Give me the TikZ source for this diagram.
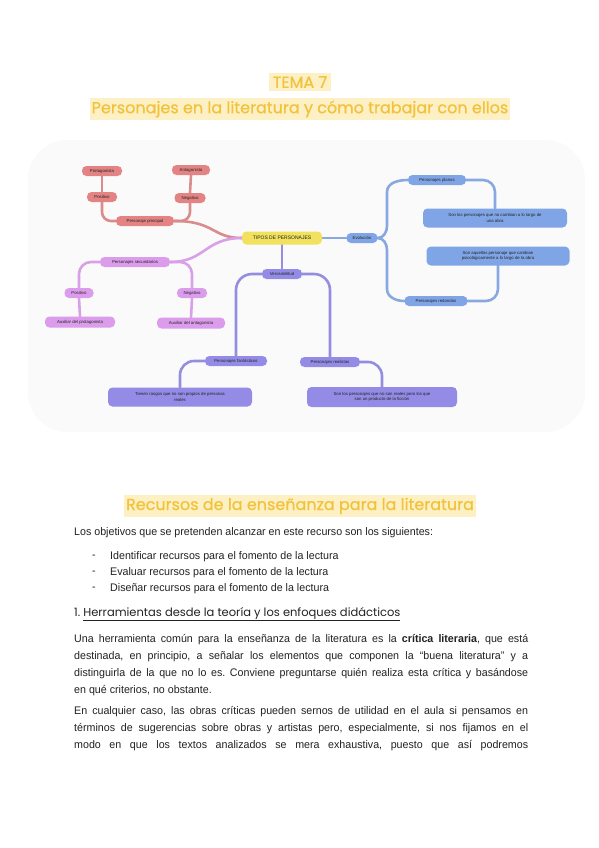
\documentclass[tikz,border=0pt]{standalone}
\usepackage{fontspec}
\setmainfont{Liberation Sans}
\newfontfamily\titlefont{Poppins}
\newfontfamily\titlefontb[FakeBold=0.7]{Poppins}
\newfontfamily\bodyfont[FakeStretch=0.97]{Liberation Sans}
\definecolor{gold}{HTML}{F2C23A}
\definecolor{hl}{HTML}{FDF0C4}
\definecolor{rfill}{HTML}{E48383}
\definecolor{rline}{HTML}{DA8C8C}
\definecolor{pfill}{HTML}{DC9CEC}
\definecolor{pline}{HTML}{D9A0E8}
\definecolor{bfill}{HTML}{80A5E6}
\definecolor{bline}{HTML}{88A8DF}
\definecolor{lfill}{HTML}{938BE6}
\definecolor{lline}{HTML}{948DE0}
\definecolor{yfill}{HTML}{F1E15E}
\definecolor{txt}{HTML}{222222}
\definecolor{blob}{HTML}{FAFAFA}
\pgfdeclarelayer{back}
\pgfdeclarelayer{bg}
\pgfsetlayers{back,bg,main}
\frenchspacing
\begin{document}
\begin{tikzpicture}[x=1pt,y=-1pt,
  mm/.style={rounded corners=4.5pt, inner sep=0pt, minimum height=10pt, align=center, font=\fontsize{4.3}{5.3}\selectfont, text=txt},
  rn/.style={mm, fill=rfill},
  pn/.style={mm, fill=pfill},
  bn/.style={mm, fill=bfill},
  ln/.style={mm, fill=lfill},
  con/.style={line width=2.6pt, line cap=round, rounded corners=9pt},
  ttl/.style={fill=hl, inner xsep=2pt, inner ysep=3pt, text=gold, font=\titlefontb\fontsize{16}{19}\selectfont},
  body/.style={anchor=west, inner sep=0pt, font=\bodyfont\fontsize{11}{13}\selectfont, text=txt}]
\begin{pgfonlayer}{back}
\fill[white] (0,0) rectangle (599,848);
\fill[blob, rounded corners=40pt] (28,140) rectangle (585,432);
\end{pgfonlayer}
\useasboundingbox (0,0) rectangle (599,848);

% titles
\node[ttl, inner xsep=4pt] (t1) at (300,82) {TEMA 7};
\node[ttl] (t2) at (300,109) {Personajes en la literatura y cómo trabajar con ellos};

% central
\node[mm, fill=yfill, minimum width=80pt, minimum height=13pt, font=\fontsize{5}{6}\selectfont] (tipos) at (282,238) {TIPOS DE PERSONAJES};

% red branch
\node[rn, minimum width=40pt] (prot) at (102,171) {Protagonista};
\node[rn, minimum width=30pt] (rpos) at (102,197) {Positivo};
\node[rn, minimum width=38pt] (antag) at (191,170) {Antagonista};
\node[rn, minimum width=31pt] (rneg) at (190,198) {Negativo};
\node[rn, minimum width=58pt] (pp) at (145,221) {Personaje principal};

% pink branch
\node[pn, minimum width=70pt] (sec) at (135,262) {Personajes secundarios};
\node[pn, minimum width=29pt] (ppos) at (79,293) {Positivo};
\node[pn, minimum width=30pt] (pneg) at (192,293) {Negativo};
\node[pn, minimum width=70pt, minimum height=11pt] (aux1) at (80,322) {Auxiliar del protagonista};
\node[pn, minimum width=68pt, minimum height=11pt] (aux2) at (191,323) {Auxiliar del antagonista};

% blue branch
\node[bn, minimum width=31pt] (evol) at (362,238) {Evolución};
\node[bn, minimum width=58pt] (planos) at (437,180) {Personajes planos};
\node[bn, minimum width=144pt, minimum height=19pt] (sonlos) at (495,218) {Son los personajes que no cambian a lo largo de\\una obra};
\node[bn, minimum width=143pt, minimum height=19pt] (sonaq) at (498,256) {Son aquellos personaje que cambian\\psicológicamente a lo largo de la obra};
\node[bn, minimum width=63pt] (redondos) at (436,301) {Personajes redondos};

% lavender branch
\node[ln, minimum width=40pt] (veros) at (282,274) {Verosimilitud};
\node[ln, minimum width=62pt] (fant) at (236,361) {Personajes fantásticos};
\node[ln, minimum width=60pt] (real) at (330,362) {Personajes realistas};
\node[ln, minimum width=144pt, minimum height=19pt] (tienen) at (180,397) {Tienen rasgos que no son propios de personas\\reales};
\node[ln, minimum width=150pt, minimum height=20pt] (sonlos2) at (382,397) {Son los personajes que no son reales pero los que\\son un producto de la ficción};

\begin{pgfonlayer}{bg}
% red
\draw[con, rline] (rpos.north) -- (prot.south);
\draw[con, rline] (rneg.north) -- (antag.south);
\draw[con, rline] (rpos.south) |- (pp.west);
\draw[con, rline] (rneg.south) |- (pp.east);
\draw[con, rline] (pp.east) .. controls (215,221) and (212,238) .. (tipos.west);
% pink
\draw[con, pline] (tipos.west) .. controls (205,238) and (205,262) .. (sec.east);
\draw[con, pline, rounded corners=12pt] (sec.west) -| (ppos.north);
\draw[con, pline, rounded corners=12pt] (sec.east) -| (pneg.north);
\draw[con, pline] (ppos.south) -- (aux1.north);
\draw[con, pline] (pneg.south) -- (aux2.north);
% blue
\draw[con, bline] (tipos.east) -- (evol.west);
\coordinate (brU) at (387,192);
\coordinate (brD) at (387,289);
\draw[con, bline, rounded corners=0pt] (evol.east) to[out=0,in=-90] (387,226) -- (brU) to[out=90,in=180] (planos.west);
\draw[con, bline, rounded corners=0pt] (evol.east) to[out=0,in=90] (387,250) -- (brD) to[out=-90,in=180] (redondos.west);
\draw[con, bline, rounded corners=12pt] (planos.east) -| (sonlos.north);
\draw[con, bline, rounded corners=12pt] (redondos.east) -| (sonaq.south);
% lavender
\draw[con, lline] (tipos.south) -- (veros.north);
\draw[con, lline, rounded corners=16pt] (veros.west) -| (fant.north);
\draw[con, lline, rounded corners=16pt] (veros.east) -| (real.north);
\draw[con, lline, rounded corners=14pt] (fant.west) -| (tienen.north);
\draw[con, lline, rounded corners=14pt] (real.east) -| (sonlos2.north);
\end{pgfonlayer}

% second section
\node[ttl] (t3) at (300,506) {Recursos de la enseñanza para la literatura};
\node[body] (intro) at (74,533) {Los objetivos que se pretenden alcanzar en este recurso son los siguientes:};
\node[body] (d1) at (92,557) {-};
\node[body] (b1) at (110,557) {Identificar recursos para el fomento de la lectura};
\node[body] (d2) at (92,573) {-};
\node[body] (b2) at (110,573) {Evaluar recursos para el fomento de la lectura};
\node[body] (d3) at (92,589) {-};
\node[body] (b3) at (110,589) {Diseñar recursos para el fomento de la lectura};
\node[body, font=\titlefont\fontsize{11.5}{13}\selectfont] (h1) at (74,614) {1. \underline{Herramientas desde la teoría y los enfoques didácticos}};

\node[body] (p1a) at (74,640) {\makebox[454pt][s]{Una herramienta común para la enseñanza de la literatura es la \textbf{crítica literaria}, que está}};
\node[body] (p1b) at (74,657) {\makebox[454pt][s]{destinada, en principio, a señalar los elementos que componen la “buena literatura” y a}};
\node[body] (p1c) at (74,674) {\makebox[454pt][s]{distinguirla de la que no lo es. Conviene preguntarse quién realiza esta crítica y basándose}};
\node[body] (p1d) at (74,691) {en qué criterios, no obstante.};

\node[body] (p2a) at (74,712) {\makebox[454pt][s]{En cualquier caso, las obras críticas pueden sernos de utilidad en el aula si pensamos en}};
\node[body] (p2b) at (74,729) {\makebox[454pt][s]{términos de sugerencias sobre obras y artistas pero, especialmente, si nos fijamos en el}};
\node[body] (p2c) at (74,746) {\makebox[454pt][s]{modo en que los textos analizados se mera exhaustiva, puesto que así podremos}};
\end{tikzpicture}
\end{document}
